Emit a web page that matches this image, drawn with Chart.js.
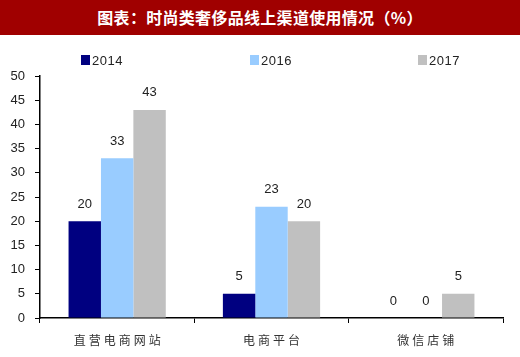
<!DOCTYPE html>
<html>
<head>
<meta charset="utf-8">
<script src="https://cdn.jsdelivr.net/npm/chart.js@4"></script>
<style>
  html,body{margin:0;padding:0;background:#fff;}
  #wrap{position:relative;width:520px;height:357px;overflow:hidden;}
  #title{position:absolute;left:0;top:0;width:520px;height:35px;background:#A00000;color:#fff;
    font-family:"Noto Sans CJK SC",sans-serif;font-weight:bold;font-size:16px;line-height:35px;text-align:center;letter-spacing:0.3px;}
  #cv{position:absolute;left:0;top:36px;}
</style>
</head>
<body>
<div id="wrap">
  <div id="title">图表：时尚类奢侈品线上渠道使用情况（%）</div>
  <canvas id="cv" width="520" height="321"></canvas>
</div>
<script>
const categories = ["直营电商网站", "电商平台", "微信店铺"];
const seriesNames = ["2014", "2016", "2017"];
const values2014 = [20, 5, 0];
const values2016 = [33, 23, 0];
const values2017 = [43, 20, 5];
const yTicks = [0, 5, 10, 15, 20, 25, 30, 35, 40, 45, 50];
const colors = ["#000080", "#99CCFF", "#C0C0C0"];

const valueLabels = {
  id: "valueLabels",
  afterDatasetsDraw(chart) {
    const ctx = chart.ctx;
    ctx.save();
    ctx.font = "13px 'Liberation Sans', Arial, sans-serif";
    ctx.fillStyle = "#222";
    ctx.textAlign = "center";
    ctx.textBaseline = "middle";
    chart.data.datasets.forEach((ds, i) => {
      chart.getDatasetMeta(i).data.forEach((bar, j) => {
        ctx.fillText(String(ds.data[j]), bar.x, bar.y - 17);
      });
    });
    ctx.restore();
  }
};

const catLabels = {
  id: "catLabels",
  afterDraw(chart) {
    const ctx = chart.ctx;
    const xs = chart.scales.x;
    ctx.save();
    ctx.font = "12px 'Noto Sans CJK SC', sans-serif";
    ctx.fillStyle = "#333";
    ctx.textBaseline = "middle";
    ctx.textAlign = "center";
    try { ctx.letterSpacing = "3px"; } catch (e) {}
    categories.forEach((c, i) => {
      const x = xs.getPixelForValue(i);
      ctx.fillText(c, x + 1.5, chart.chartArea.bottom + 22);
    });
    ctx.restore();
  }
};

// legend drawn at fixed slots across the top of the plot
const legendSlots = [81, 250, 418];
const customLegend = {
  id: "customLegend",
  afterDraw(chart) {
    const ctx = chart.ctx;
    ctx.save();
    ctx.font = "13px 'Liberation Sans', Arial, sans-serif";
    ctx.textBaseline = "middle";
    ctx.textAlign = "left";
    try { ctx.letterSpacing = "0.5px"; } catch (e) {}
    chart.data.datasets.forEach((ds, i) => {
      const x = legendSlots[i];
      ctx.fillStyle = ds.backgroundColor;
      ctx.fillRect(x, 19, 9, 10);
      ctx.fillStyle = "#222";
      ctx.fillText(ds.label, x + 11, 25);
    });
    ctx.restore();
  }
};

new Chart(document.getElementById("cv"), {
  type: "bar",
  data: {
    labels: categories,
    datasets: [
      { label: seriesNames[0], data: values2014, backgroundColor: colors[0] },
      { label: seriesNames[1], data: values2016, backgroundColor: colors[1] },
      { label: seriesNames[2], data: values2017, backgroundColor: colors[2] }
    ]
  },
  options: {
    responsive: false,
    animation: false,
    devicePixelRatio: 1,
    layout: { padding: { left: 0, right: 17, top: 40, bottom: 0 } },
    datasets: { bar: { categoryPercentage: 0.63, barPercentage: 1.0 } },
    plugins: {
      legend: { display: false },
      tooltip: { enabled: false },
      title: { display: false }
    },
    scales: {
      x: {
        grid: { display: true, drawOnChartArea: false, tickLength: 5, color: "#000", offset: true },
        border: { display: true, color: "#000", width: 1.5 },
        ticks: { display: false },
        afterFit(s) { s.height = 39; }
      },
      y: {
        min: 0, max: 50,
        afterBuildTicks(s) { s.ticks = yTicks.map(v => ({ value: v })); },
        grid: { display: true, drawOnChartArea: false, tickLength: 5, color: "#000" },
        border: { display: true, color: "#000", width: 1.5 },
        ticks: {
          autoSkip: false,
          padding: 10,
          font: { family: "'Liberation Sans', Arial, sans-serif", size: 13 },
          color: "#222"
        },
        afterFit(s) { s.width = 40; }
      }
    }
  },
  plugins: [valueLabels, catLabels, customLegend]
});
</script>
</body>
</html>
